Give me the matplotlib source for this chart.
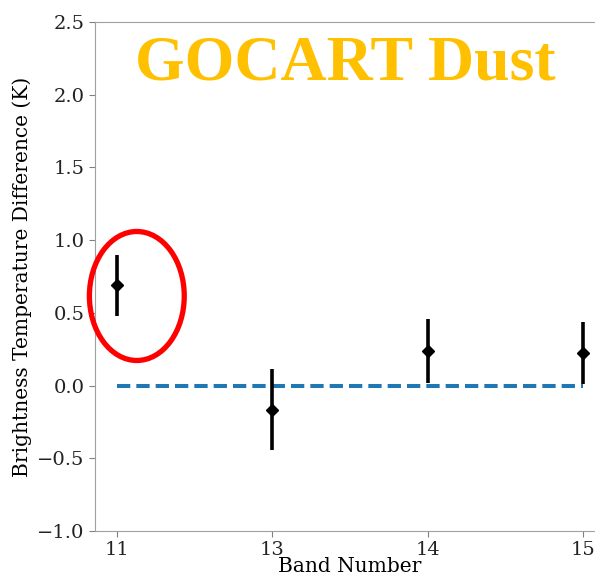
import numpy as np
import matplotlib.pyplot as plt
from matplotlib.patches import Ellipse

bands = ['11', '13', '14', '15']
diff = [0.69, -0.165, 0.237, 0.224]
err = [0.21, 0.28, 0.22, 0.21]

plt.rcParams['font.family'] = 'DejaVu Serif'

fig = plt.figure(figsize=(5.95, 5.79), dpi=100)
ax = fig.add_axes([95/595, 48/579, 510/595, 509/579])

x = np.arange(len(bands))
ax.plot([x[0], x[-1]], [0, 0], '--', color='#1f77b4', lw=2.9, dashes=(3.3, 1.5))
ax.errorbar(x, diff, yerr=err, fmt='D', color='k', ms=6, elinewidth=2.6, capsize=0)

ax.add_patch(Ellipse((0.129, 0.616), 0.61, 0.887, fill=False, ec='red', lw=3.8, clip_on=False, zorder=5))

ax.set_xlim(-0.14, 3.14)
ax.set_ylim(-1.0, 2.5)
ax.set_xticks(x)
ax.set_xticklabels(bands)
ax.set_yticks(np.arange(-1.0, 2.51, 0.5))
ax.tick_params(labelsize=14, color='#808080', length=4, labelcolor='#222222')
for s in ax.spines.values():
    s.set_color('#a0a0a0')
ax.spines['right'].set_visible(False)

ax.set_xlabel('Band Number', fontsize=14.5, labelpad=-2)
ax.set_ylabel('Brightness Temperature Difference (K)', fontsize=14.5, labelpad=4)

ax.text(0.49, 0.917, 'GOCART Dust', transform=ax.transAxes, ha='center', va='center',
        family='Liberation Serif', fontweight='bold', fontsize=46, color='#FFC000')

fig.savefig('out.png', dpi=100)
